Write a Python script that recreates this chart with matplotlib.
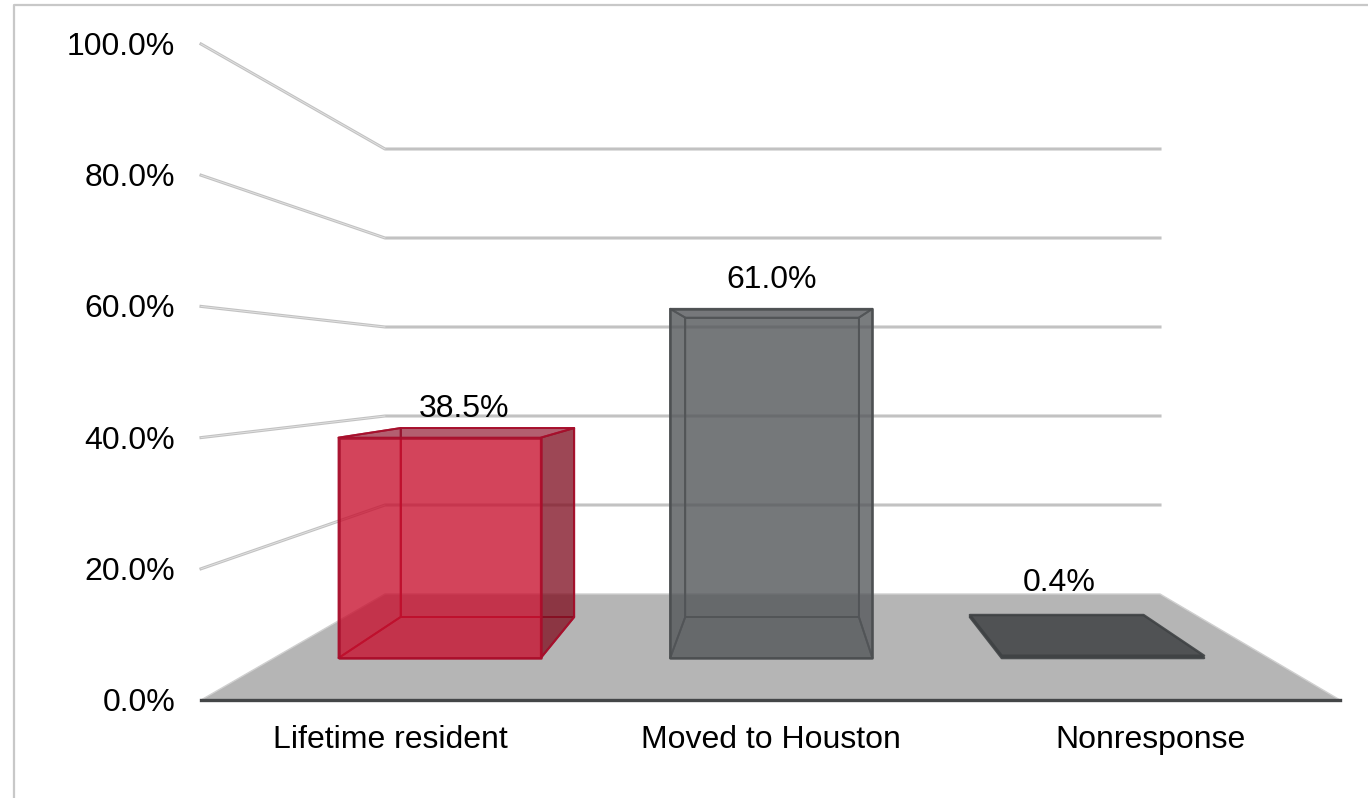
import numpy as np
import matplotlib
matplotlib.use("Agg")
import matplotlib.pyplot as plt
from matplotlib.colors import to_rgba
from matplotlib.patches import Polygon

plt.rcParams['font.family'] = ['Liberation Sans', 'DejaVu Sans']

categories = ["Lifetime resident", "Moved to Houston", "Nonresponse"]
values = [38.5, 61.0, 0.4]
value_labels = ["38.5%", "61.0%", "0.4%"]
y_ticks = [0, 20, 40, 60, 80, 100]
y_tick_labels = ["0.0%", "20.0%", "40.0%", "60.0%", "80.0%", "100.0%"]

# where the data labels sit, relative to the middle of the bar top (pixels)
label_dx = [0, 0, -21]
label_dy = [-24, -33, -52]

# bar colours: edge, face
bar_edges = ["#a80f2c", "#4c4f51", "#3f4244"]
bar_faces = ["#c8102e", "#54575a", "#4a4c4e"]

BAR_FRONT = 0.396
BAR_BACK = 0.783
BAR_HALF = 0.305
FONT_SIZE = 23


def project(u, v, d):
    """category position u, value v, depth d (0 front, 1 back) to picture pixels"""
    left = 201 + (385 - 201) * d
    right = 1340 + (1160 - 1340) * d
    x = left + (right - left) * u / 3.0
    y = 700 - 106 * d - v * (6.56 - 2.11 * d)
    return x, y


def face(ax, pts, color, alpha, edge, z, lw=1.4):
    ax.add_patch(Polygon([project(*p) for p in pts], closed=True,
                         facecolor=to_rgba(color, alpha), edgecolor=to_rgba(edge, 0.9),
                         linewidth=lw, joinstyle="round", zorder=z))


def draw_bar(ax, i, val, z):
    u0, u1 = i + 0.5 - BAR_HALF, i + 0.5 + BAR_HALF
    f, b = BAR_FRONT, BAR_BACK
    col, edge = bar_faces[i], bar_edges[i]
    if val < 1:
        # almost flat bar, floor and top faces nearly coincide
        for level in (0, val):
            face(ax, [(u0, level, f), (u1, level, f), (u1, level, b), (u0, level, b)], "#505254", 1.0, edge, z, 1.8)
        return
    # back, left and floor faces first, then the top, right and front ones
    red = i == 0
    face(ax, [(u0, 0, b), (u1, 0, b), (u1, val, b), (u0, val, b)], col, 0.22, edge, z)
    face(ax, [(u0, 0, f), (u0, 0, b), (u0, val, b), (u0, val, f)], col, 0.22, edge, z + 0.1)
    face(ax, [(u0, 0, f), (u1, 0, f), (u1, 0, b), (u0, 0, b)], col, 0.22, edge, z + 0.2)
    face(ax, [(u0, val, f), (u1, val, f), (u1, val, b), (u0, val, b)], "#8a1830" if red else col, 0.6 if red else 0.2, edge, z + 0.3)
    face(ax, [(u1, 0, f), (u1, 0, b), (u1, val, b), (u1, val, f)], "#7a1020" if red else col, 0.7 if red else 0.12, edge, z + 0.4)
    face(ax, [(u0, 0, f), (u1, 0, f), (u1, val, f), (u0, val, f)], col, 0.72 if red else 0.75, edge, z + 0.5, 1.8)


fig = plt.figure(figsize=(13.68, 7.98), dpi=100)
ax = fig.add_axes([0, 0, 1, 1])
ax.set_xlim(0, 1368)
ax.set_ylim(798, 0)
ax.axis("off")

# outer chart border, only left and top show
ax.plot([14, 14, 1368], [798, 5, 5], color="#c8c8c8", lw=1.6, zorder=1)

# floor
floor = [project(0, 0, 0), project(3, 0, 0), project(3, 0, 1), project(0, 0, 1)]
ax.add_patch(Polygon(floor, closed=True, facecolor="#b5b5b5", edgecolor="#d0d0d0", lw=1, zorder=2))

# gridlines along the left wall and the back wall
for t in y_ticks[1:]:
    x0, y0 = project(0, t, 0)
    x1, y1 = project(0, t, 1)
    x2, y2 = project(3, t, 1)
    ax.plot([x0, x1, x2], [y0, y1, y1], color="#c2c2c2", lw=2.2, zorder=3, solid_joinstyle="round")
    ax.plot([x0, x1], [y0, y1], color="#e4e4e4", lw=0.6, zorder=3.1)

# front edge of the floor
x0, y0 = project(0, 0, 0)
x1, y1 = project(3, 0, 0)
ax.plot([x0, x1], [y0, y1], color="#444648", lw=2.4, zorder=6)

for i, val in enumerate(values):
    draw_bar(ax, i, val, 4 + i)
    xm, ym = project(i + 0.5, val, (BAR_FRONT + BAR_BACK) / 2)
    ax.text(xm + label_dx[i], ym + label_dy[i], value_labels[i], fontsize=FONT_SIZE, ha="center",
            va="center", color="black", zorder=10)

for t, lab in zip(y_ticks, y_tick_labels):
    x0, y0 = project(0, t, 0)
    ax.text(x0 - 26, y0 + 3, lab, fontsize=FONT_SIZE, ha="right", va="center", color="black")

for i, lab in enumerate(categories):
    xc, yc = project(i + 0.5, 0, 0)
    ax.text(xc, yc + 40, lab, fontsize=FONT_SIZE, ha="center", va="center", color="black")

fig.savefig("out.png", dpi=100)
